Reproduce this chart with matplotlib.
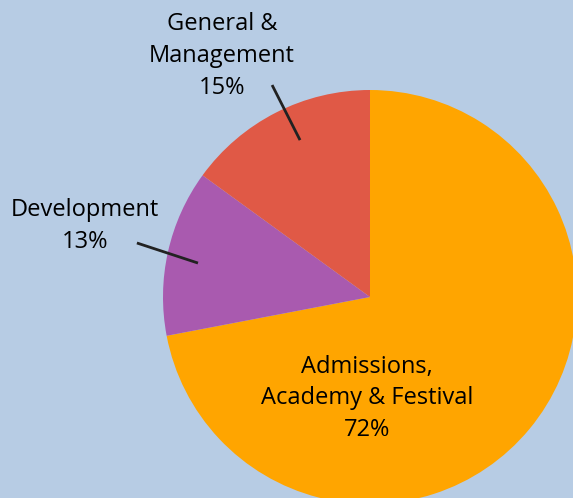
import matplotlib.pyplot as plt

labels = ["Admissions,\nAcademy & Festival", "Development", "General &\nManagement"]
shares = [72, 13, 15]
colors = ["#FFA500", "#A95AAF", "#E05946"]
bg = "#B7CCE4"

plt.rcParams['font.family'] = ['Open Sans', 'DejaVu Sans']
fig = plt.figure(figsize=(5.73, 4.98), dpi=100, facecolor=bg)
ax = fig.add_axes([0, 0, 1, 1])
ax.set_facecolor(bg)

wedges, _ = ax.pie(shares, colors=colors, startangle=90, counterclock=False,
                   radius=1, center=(0, 0))

# window the pie so it is cut off on the right and bottom, as in the original
ax.set_xlim(-370 / 207, 203 / 207)
ax.set_ylim(-201 / 207, 297 / 207)
ax.set_aspect('auto')
ax.axis('off')

fs = 17
ls = 1.42
ax.text(-0.014, -0.49, f"{labels[0]}\n{shares[0]}%", ha='center', va='center',
        fontsize=fs, linespacing=ls)
ax.text(-1.377, 0.343, f"{labels[1]}\n{shares[1]}%", ha='center', va='center',
        fontsize=fs, linespacing=ls)
ax.text(-0.715, 1.164, f"{labels[2]}\n{shares[2]}%", ha='center', va='center',
        fontsize=fs, linespacing=ls)

# leader lines
ax.plot([-1.126, -0.831], [0.261, 0.164], color='#222222', lw=2, solid_capstyle='butt')
ax.plot([-0.473, -0.338], [1.024, 0.758], color='#222222', lw=2, solid_capstyle='butt')

fig.savefig("out.png", dpi=100, facecolor=bg)
